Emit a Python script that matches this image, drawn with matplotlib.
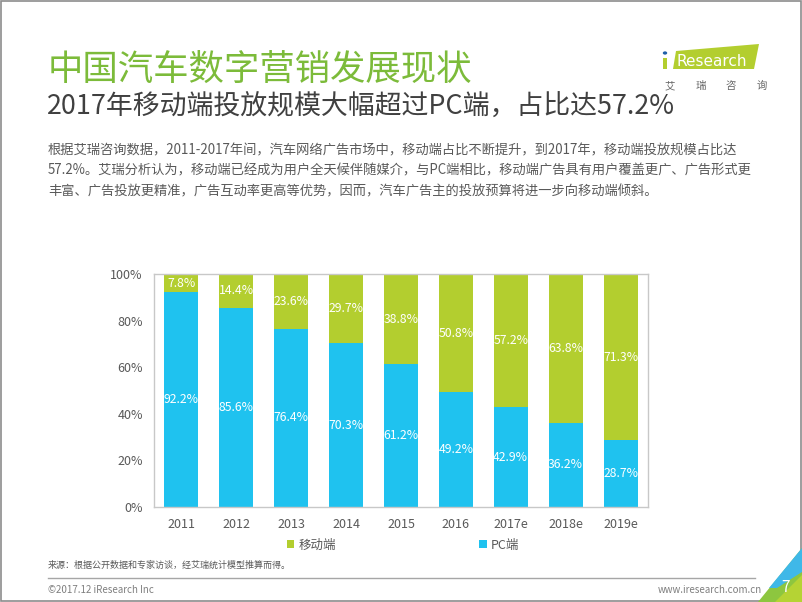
import numpy as np
import matplotlib
matplotlib.use('agg')
import matplotlib.pyplot as plt
from matplotlib.patches import Polygon, Rectangle, Circle
from matplotlib.lines import Line2D

plt.rcParams['font.family'] = ['Noto Sans CJK SC', 'DejaVu Sans']

# data
years = ['2011', '2012', '2013', '2014', '2015', '2016', '2017e', '2018e', '2019e']
pc = [92.2, 85.6, 76.4, 70.3, 61.2, 49.2, 42.9, 36.2, 28.7]
mobile = [7.8, 14.4, 23.6, 29.7, 38.8, 50.8, 57.2, 63.8, 71.3]
series_names = ['移动端', 'PC端']
yticks = [0, 20, 40, 60, 80, 100]

GREEN = '#B3CE2F'
BLUE = '#1FC2EF'
GRAY = '#595959'
W, H = 802, 602


def px(x, y):
    return (x / W, 1 - y / H)


fig = plt.figure(figsize=(8.02, 6.02), dpi=100)

# slide frame
fig.add_artist(Rectangle((0.001, 0.001), 0.998, 0.997, transform=fig.transFigure,
                         fill=False, ec='#8C8C8C', lw=1.2))

# titles
fig.text(*px(48, 70), '中国汽车数字营销发展现状', fontsize=25.5, color='#7CBB3A', va='center')
fig.text(*px(47, 107), '2017年移动端投放规模大幅超过PC端，占比达57.2%', fontsize=19.4,
         color='#404040', va='center')
para = ['根据艾瑞咨询数据，2011-2017年间，汽车网络广告市场中，移动端占比不断提升，到2017年，移动端投放规模占比达',
        '57.2%。艾瑞分析认为，移动端已经成为用户全天候伴随媒介，与PC端相比，移动端广告具有用户覆盖更广、广告形式更',
        '丰富、广告投放更精准，广告互动率更高等优势，因而，汽车广告主的投放预算将进一步向移动端倾斜。']
for i, line in enumerate(para):
    fig.text(*px(48, 150 + i * 20.5), line, fontsize=9.55, color=GRAY, va='center')

# logo
logo = [px(673, 69), px(676, 51), px(759, 44), px(754, 69)]
fig.add_artist(Polygon(logo, closed=True, transform=fig.transFigure, fc=GREEN, ec='none'))
fig.add_artist(Circle(px(665, 53), 2.2 / W, transform=fig.transFigure, fc='#1F5FA8', ec='none'))
fig.add_artist(Rectangle(px(663, 69), 4 / W, 11 / H, transform=fig.transFigure,
                         fc=GREEN, ec='none'))
fig.text(*px(712, 61), 'Research', fontsize=11, color='white', ha='center', va='center',
         family=['DejaVu Sans'])
for i, ch in enumerate('艾瑞咨询'):
    fig.text(*px(670 + i * 30.5, 86), ch, fontsize=7.5, color='#666666',
             ha='center', va='center')

# chart
ax = fig.add_axes([154 / W, 1 - 507 / H, 494 / W, 233 / H])
x = np.arange(len(years))
b1 = ax.bar(x, pc, width=0.62, color=BLUE, label=series_names[1])
b2 = ax.bar(x, mobile, width=0.62, bottom=pc, color=GREEN, label=series_names[0])
ax.bar_label(b1, labels=['%.1f%%' % v for v in pc], label_type='center',
             color='white', fontsize=8.8)
ax.bar_label(b2, labels=['%.1f%%' % v for v in mobile], label_type='center',
             color='white', fontsize=8.8)
ax.set_xlim(-0.5, len(years) - 0.5)
ax.set_ylim(0, 100)
ax.set_yticks(yticks)
ax.set_yticklabels(['%d%%' % v for v in yticks])
ax.set_xticks(x)
ax.set_xticklabels(years)
ax.tick_params(length=0, labelsize=9, colors=GRAY, pad=8)
ax.tick_params(axis='y', pad=8)
for s in ax.spines.values():
    s.set_color('#C8C8C8')
    s.set_linewidth(1)

fig.legend(handles=[b2, b1], labels=series_names, loc='center', ncol=2,
           bbox_to_anchor=px(403, 545), frameon=False, fontsize=9,
           handlelength=0.6, handleheight=0.6, handletextpad=0.3,
           columnspacing=11.5, labelcolor=GRAY)

# footer
fig.text(*px(48, 565), '来源：根据公开数据和专家访谈，经艾瑞统计模型推算而得。', fontsize=6.5,
         color=GRAY, va='center')
fig.add_artist(Line2D([48 / W, 755 / W], [1 - 578 / H] * 2, transform=fig.transFigure,
                      color='#A6A6A6', lw=1))
fig.text(*px(48, 590), '©2017.12 iResearch Inc', fontsize=7, color='#7F7F7F', va='center')
fig.text(*px(762, 590), 'www.iresearch.com.cn', fontsize=7, color='#7F7F7F',
         va='center', ha='right')

# corner decoration
fig.add_artist(Polygon([px(802, 548), px(802, 602), px(758, 602)], closed=True,
                       transform=fig.transFigure, fc='#8DC63F', ec='none'))
fig.add_artist(Polygon([px(802, 548), px(802, 572), px(777, 588), px(769, 588)], closed=True,
                       transform=fig.transFigure, fc='#3FB8E8', ec='none'))
fig.add_artist(Polygon([px(802, 575), px(802, 602), px(775, 602)], closed=True,
                       transform=fig.transFigure, fc='#B5D334', ec='none'))
fig.text(*px(786, 588), '7', fontsize=11, color='white', ha='center', va='center')

fig.savefig('out.png', dpi=100)
plt.close(fig)
